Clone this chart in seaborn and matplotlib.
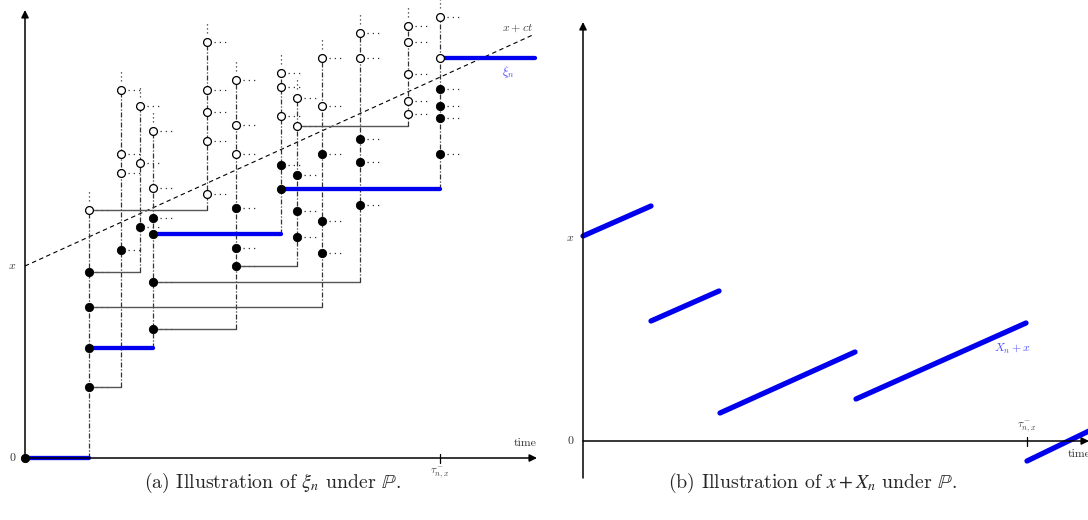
import matplotlib
matplotlib.use("Agg")
import matplotlib.pyplot as plt
import seaborn as sns
import pandas as pd

sns.set_theme(style="white")
plt.rcParams["font.family"] = ["cmr10", "DejaVu Serif"]
plt.rcParams["mathtext.fontset"] = "cm"
plt.rcParams["axes.formatter.use_mathtext"] = True

# ---------------- data : panel (a) ----------------
x_level = 19.2          # starting level x
c_speed = 0.455         # slope of x + ct
line_end = 50.8         # end of dashed line
tau_a = 41.5            # tau^-_{n,x}

col_times = [6.4, 9.6, 11.5, 12.8, 18.2, 21.1, 25.6, 27.2, 29.7, 33.5, 38.3, 41.5]
col_bases = [0.0, 7.1, 18.6, 11.0, 24.8, 12.9, 22.4, 19.2, 15.1, 17.6, 33.2, 26.9]
col_parents = [None, 6.4, 6.4, 6.4, 6.4, 12.8, 12.8, 21.1, 6.4, 12.8, 27.2, 25.6]
col_points = [
    [24.8, 18.6, 15.1, 11.0, 7.1],
    [36.8, 30.4, 28.5, 20.8],
    [35.2, 29.5, 23.1],
    [32.7, 27.0, 24.0, 22.4, 17.6, 12.9],
    [41.6, 36.8, 34.6, 31.7, 26.4],
    [37.8, 33.3, 30.4, 25.0, 21.0, 19.2],
    [38.5, 37.1, 34.2, 29.3, 26.9],
    [36.0, 33.2, 28.3, 24.7, 22.1],
    [40.0, 35.2, 30.4, 23.7, 20.5],
    [42.5, 40.0, 31.9, 29.6, 25.3],
    [43.2, 41.6, 38.4, 35.7, 34.4],
    [44.1, 40.0, 36.9, 35.2, 34.0, 30.4],
]
col_n_open = [1, 3, 2, 2, 5, 3, 3, 2, 2, 2, 5, 2]

xi_times = [0.0, 6.4, 12.8, 25.6, 41.5]
xi_ends = [6.4, 12.8, 25.6, 41.5, 51.0]
xi_values = [0.0, 11.0, 22.4, 26.9, 40.0]

# ---------------- data : panel (b) ----------------
b_t0 = [0.0, 6.8, 13.7, 27.3, 44.4]
b_t1 = [6.8, 13.6, 27.2, 44.3, 50.6]
b_v0 = [20.5, 12.0, 2.8, 4.2, -2.0]
b_v1 = [23.5, 15.0, 8.9, 11.8, 1.0]
b_x_level = 20.3
tau_b = 44.4

# ---------------- figure ----------------
fig = plt.figure(figsize=(10.88, 5.2), dpi=100)
axA = fig.add_axes([0, 40 / 520, 545 / 1088, 480 / 520])
axA.set_xlim(-2.5, 52.0)
axA.set_ylim(-2.2, 45.8)
axB = fig.add_axes([548 / 1088, 30 / 520, 540 / 1088, 490 / 520])
axB.set_xlim(-3.5, 50.5)
axB.set_ylim(-4.9, 44.1)
for ax in (axA, axB):
    ax.axis("off")

BLUE = "#0000ee"
LBLUE = "#4d4dff"
arrow = dict(arrowstyle="-|>", lw=1.1, color="black", mutation_scale=11,
             shrinkA=0, shrinkB=0)

# axes arrows panel a
axA.annotate("", xy=(0, 44.8), xytext=(0, 0), arrowprops=arrow, annotation_clip=False)
axA.annotate("", xy=(51.2, 0), xytext=(0, 0), arrowprops=arrow, annotation_clip=False)

# dashed line x + ct
axA.plot([0, line_end], [x_level, x_level + c_speed * line_end],
         ls=(0, (4, 3)), color="black", lw=0.8)

# connectors & columns
for t, base, par, pts in zip(col_times, col_bases, col_parents, col_points):
    if par is not None:
        sns.lineplot(x=[par, t], y=[base, base], ax=axA, color="#555555",
                     lw=1.0, sort=False, estimator=None)
    top = max(pts)
    axA.plot([t, t], [base, top], color="#333333", lw=0.9,
             ls=(0, (4, 1.5, 1, 1.5)))
    axA.plot([t, t], [top + 0.9, top + 2.1], color="#333333", lw=0.9,
             ls=(0, (1, 2.2)))
    for v in pts:
        axA.plot([t + 0.7, t + 2.2], [v, v], color="#333333", lw=0.9,
                 ls=(0, (1, 3.2)))

# blue xi_n
for t0, t1, v in zip(xi_times, xi_ends, xi_values):
    sns.lineplot(x=[t0, t1], y=[v, v], ax=axA, color=BLUE, lw=3.1,
                 sort=False, estimator=None)

# points
rows = [dict(t=0.0, v=0.0, open=False)]
for t, pts, nop in zip(col_times, col_points, col_n_open):
    for i, v in enumerate(pts):
        rows.append(dict(t=t, v=v, open=i < nop))
df = pd.DataFrame(rows)
sns.scatterplot(data=df[~df.open], x="t", y="v", ax=axA, color="black",
                s=36, edgecolor="black", linewidth=0.6, zorder=5)
sns.scatterplot(data=df[df.open], x="t", y="v", ax=axA, facecolor="white",
                s=32, edgecolor="black", linewidth=0.9, zorder=5)

# tick tau
axA.plot([tau_a, tau_a], [-0.45, 0.45], color="black", lw=0.9)

# labels panel a
fs = 8.5
axA.text(-0.9, 0, "0", ha="right", va="center", fontsize=fs, color="#333333")
axA.text(-0.9, x_level, "$x$", ha="right", va="center", fontsize=fs, color="#333333")
axA.text(50.0, 1.0, "time", ha="center", va="bottom", fontsize=fs, color="#333333")
axA.text(49.3, 43.0, "$x+ct$", ha="center", va="center", fontsize=fs, color="#444444")
axA.text(48.3, 38.6, r"$\xi_n$", ha="center", va="center", fontsize=fs + 0.5, color=LBLUE)
axA.text(tau_a, -1.5, r"$\tau^-_{n,x}$", ha="center", va="center", fontsize=fs - 0.5,
         color="#444444")

# ---------------- panel b ----------------
axB.annotate("", xy=(0, 41.9), xytext=(0, -3.7), arrowprops=arrow, annotation_clip=False)
axB.annotate("", xy=(50.6, 0), xytext=(0, 0), arrowprops=arrow, annotation_clip=False)
for t0, t1, v0, v1 in zip(b_t0, b_t1, b_v0, b_v1):
    sns.lineplot(x=[t0, t1], y=[v0, v1], ax=axB, color=BLUE, lw=3.8,
                 sort=False, estimator=None)
axB.plot([tau_b, tau_b], [-0.45, 0.45], color="black", lw=0.9)
axB.text(-0.9, 0, "0", ha="right", va="center", fontsize=fs, color="#333333")
axB.text(-0.9, b_x_level, "$x$", ha="right", va="center", fontsize=fs, color="#333333")
axB.text(49.6, -0.8, "time", ha="center", va="top", fontsize=fs, color="#333333")
axB.text(43.0, 9.2, "$X_n+x$", ha="center", va="center", fontsize=fs, color=LBLUE)
axB.text(tau_b, 1.4, r"$\tau^-_{n,x}$", ha="center", va="center", fontsize=fs - 0.5,
         color="#444444")

# captions
fig.text(272 / 1088, 1 - 483 / 520, r"(a) Illustration of $\xi_n$ under $\mathbb{P}$.",
         ha="center", va="center", fontsize=14.3, math_fontfamily="stix")
fig.text(813 / 1088, 1 - 483 / 520, r"(b) Illustration of $x+X_n$ under $\mathbb{P}$.",
         ha="center", va="center", fontsize=14.3, math_fontfamily="stix")

fig.savefig("out.png", dpi=100)
